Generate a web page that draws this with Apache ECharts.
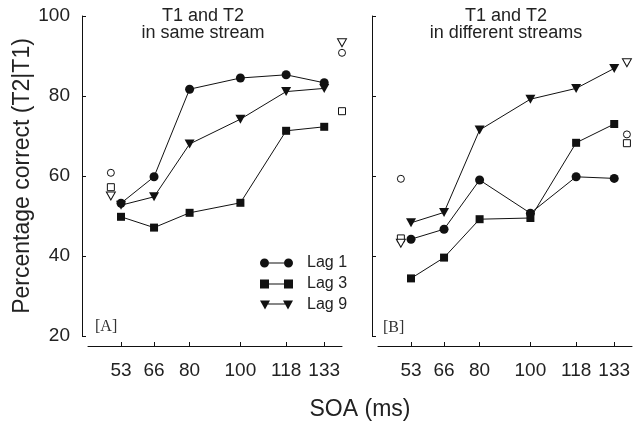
<!DOCTYPE html>
<html>
<head>
<meta charset="utf-8">
<title>Percentage correct by SOA</title>
<script src="https://cdn.jsdelivr.net/npm/echarts@6.0.0/dist/echarts.min.js"></script>
<style>
    html, body { margin: 0; padding: 0; background: #fff; }
    #chart-box { width: 633px; height: 427px; }
</style>
</head>
<body>
<div id="chart-box"></div>
<script>
// SOA (ms) on the x axis
var soa = [53, 66, 80, 100, 118, 133];
var yTicks = [20, 40, 60, 80, 100];

// [A] T1 and T2 in same stream
var sameLag1 = [53.2, 59.8, 81.7, 84.5, 85.3, 83.3];
var sameLag3 = [49.8, 47.1, 50.8, 53.3, 71.3, 72.3];
var sameLag9 = [52.7, 54.8, 68.0, 74.2, 81.1, 81.9];

// [B] T1 and T2 in different streams
var diffLag1 = [44.2, 46.7, 59.0, 50.7, 59.8, 59.4];
var diffLag3 = [34.4, 39.6, 49.2, 49.5, 68.3, 73.0];
var diffLag9 = [48.3, 50.9, 71.5, 79.2, 81.9, 86.9];

// open symbols drawn left / right of the curves
var sameBaseX = [49, 140];
var sameBaseLag1 = [60.8, 90.8];
var sameBaseLag3 = [57.2, 76.2];
var sameBaseLag9 = [55.0, 93.3];

var diffBaseX = [49, 138];
var diffBaseLag1 = [59.3, 70.4];
var diffBaseLag3 = [44.4, 68.2];
var diffBaseLag9 = [43.2, 88.3];

var ink = '#111';
var font = 'Liberation Sans, Arial, sans-serif';

// symbol look per lag
var marks = {
    'Lag 1': { symbol: 'circle', size: 9, rotate: 0, open: 7 },
    'Lag 3': { symbol: 'rect', size: 8, rotate: 0, open: 7 },
    'Lag 9': { symbol: 'triangle', size: [10, 9], rotate: 180, open: [9, 8] }
};

function lineSeries(name, values, idx) {
    var m = marks[name];
    return {
        name: name,
        type: 'line',
        xAxisIndex: idx,
        yAxisIndex: idx,
        data: soa.map(function (s, i) { return [s, values[i]]; }),
        symbol: m.symbol,
        symbolSize: m.size,
        symbolRotate: m.rotate,
        lineStyle: { color: ink, width: 1 },
        itemStyle: { color: ink, opacity: 1 },
        z: 3
    };
}

function baseSeries(name, xs, values, idx) {
    var m = marks[name];
    return {
        name: name + ' base',
        type: 'scatter',
        xAxisIndex: idx,
        yAxisIndex: idx,
        data: xs.map(function (x, i) { return [x, values[i]]; }),
        symbol: m.symbol,
        symbolSize: m.open,
        symbolRotate: m.rotate,
        clip: false,
        itemStyle: { color: '#fff', borderColor: ink, borderWidth: 1, opacity: 1 },
        z: 4
    };
}

function xAxisOf(idx) {
    return {
        type: 'value',
        gridIndex: idx,
        min: 40,
        max: 140,
        offset: 10,
        axisLine: { show: true, lineStyle: { color: ink, width: 1 } },
        axisTick: { show: true, inside: true, length: 4, customValues: soa, lineStyle: { color: ink } },
        axisLabel: { customValues: soa, color: '#222', fontSize: 19, fontFamily: font, margin: 15 },
        splitLine: { show: false }
    };
}

function yAxisOf(idx) {
    return {
        type: 'value',
        gridIndex: idx,
        min: 20,
        max: 100,
        interval: 20,
        offset: 6,
        name: idx === 0 ? 'Percentage correct (T2|T1)' : '',
        nameLocation: 'middle',
        nameGap: 45,
        nameTextStyle: { color: '#222', fontSize: 23, fontFamily: font },
        axisLine: { show: true, lineStyle: { color: ink, width: 1 } },
        axisTick: { show: true, inside: true, length: 4, customValues: yTicks, lineStyle: { color: ink } },
        axisLabel: { show: idx === 0, customValues: yTicks, color: '#222', fontSize: 19, fontFamily: font, margin: 12 },
        splitLine: { show: false }
    };
}

// legend icons: marker - line - marker
var iconCircle = 'path://M0,4.5A4.5,4.5,0,1,1,9,4.5A4.5,4.5,0,1,1,0,4.5Z M24,4.5A4.5,4.5,0,1,1,33,4.5A4.5,4.5,0,1,1,24,4.5Z M9,4L24,4L24,5L9,5Z';
var iconSquare = 'path://M0,0L9,0L9,9L0,9Z M24,0L33,0L33,9L24,9Z M9,4L24,4L24,5L9,5Z';
var iconTri = 'path://M0,0L10,0L5,9Z M23,0L33,0L28,9Z M7,3L26,3L26,4L7,4Z';

var chartDom = document.getElementById('chart-box');
var myChart = echarts.init(chartDom);
var option;

option = {
    animation: false,
    backgroundColor: '#fff',
    title: [
        {
            text: 'T1 and T2\nin same stream',
            left: 203, top: 8, padding: 0,
            textAlign: 'center',
            textStyle: { fontSize: 18, fontWeight: 'normal', color: '#222', fontFamily: font, lineHeight: 17 }
        },
        {
            text: 'T1 and T2\nin different streams',
            left: 506, top: 8, padding: 0,
            textAlign: 'center',
            textStyle: { fontSize: 18, fontWeight: 'normal', color: '#222', fontFamily: font, lineHeight: 17 }
        },
        {
            text: '[A]', left: 95, top: 319, padding: 0,
            textStyle: { fontSize: 16, fontWeight: 'normal', color: '#333', fontFamily: 'Liberation Serif, Times New Roman, serif' }
        },
        {
            text: '[B]', left: 383, top: 320, padding: 0,
            textStyle: { fontSize: 16, fontWeight: 'normal', color: '#333', fontFamily: 'Liberation Serif, Times New Roman, serif' }
        },
        {
            text: 'SOA (ms)', left: 360, top: 398, padding: 0,
            textAlign: 'center',
            textStyle: { fontSize: 23, fontWeight: 'normal', color: '#222', fontFamily: font }
        }
    ],
    legend: {
        data: [
            { name: 'Lag 1', icon: iconCircle },
            { name: 'Lag 3', icon: iconSquare },
            { name: 'Lag 9', icon: iconTri }
        ],
        orient: 'vertical',
        left: 260,
        top: 255,
        padding: 0,
        itemWidth: 33,
        itemHeight: 9,
        itemGap: 5,
        selectedMode: false,
        itemStyle: { color: ink, borderWidth: 0 },
        textStyle: { fontSize: 16, color: '#222', fontFamily: font, padding: [0, 0, 0, 9] }
    },
    grid: [
        { left: 88, top: 16, width: 254, height: 320, outerBoundsMode: 'none' },
        { left: 378, top: 16, width: 254, height: 320, outerBoundsMode: 'none' }
    ],
    xAxis: [xAxisOf(0), xAxisOf(1)],
    yAxis: [yAxisOf(0), yAxisOf(1)],
    series: [
        lineSeries('Lag 1', sameLag1, 0),
        lineSeries('Lag 3', sameLag3, 0),
        lineSeries('Lag 9', sameLag9, 0),
        baseSeries('Lag 1', sameBaseX, sameBaseLag1, 0),
        baseSeries('Lag 3', sameBaseX, sameBaseLag3, 0),
        baseSeries('Lag 9', sameBaseX, sameBaseLag9, 0),
        lineSeries('Lag 1', diffLag1, 1),
        lineSeries('Lag 3', diffLag3, 1),
        lineSeries('Lag 9', diffLag9, 1),
        baseSeries('Lag 1', diffBaseX, diffBaseLag1, 1),
        baseSeries('Lag 3', diffBaseX, diffBaseLag3, 1),
        baseSeries('Lag 9', diffBaseX, diffBaseLag9, 1)
    ]
};

option && myChart.setOption(option);
</script>
</body>
</html>
